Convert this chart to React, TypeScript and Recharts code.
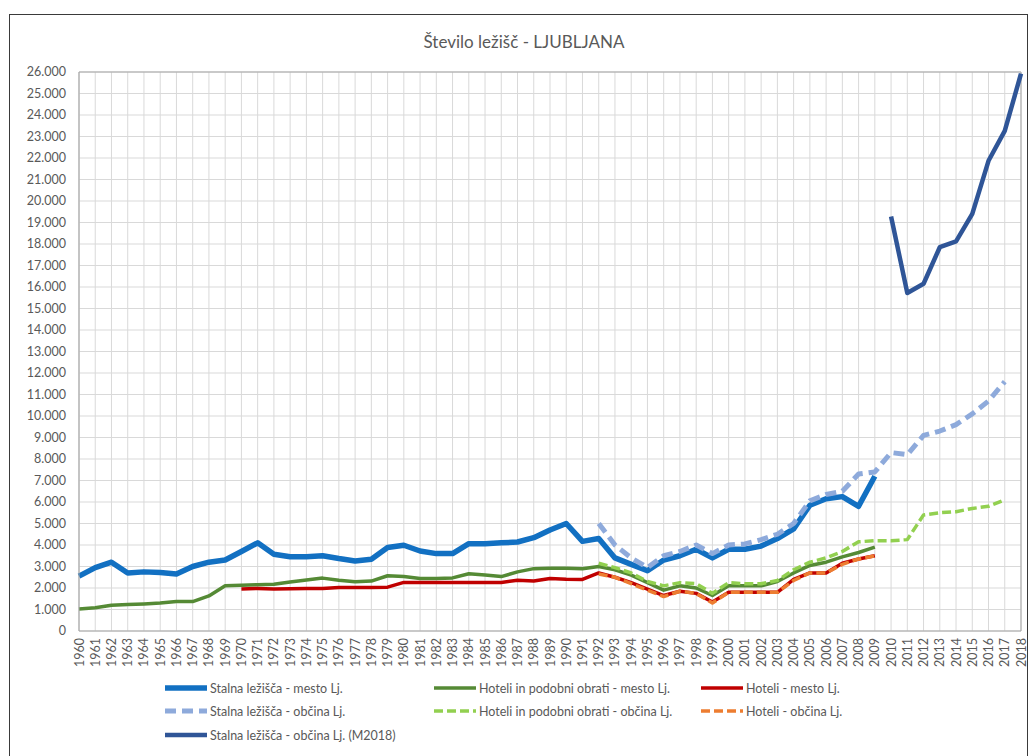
import React from "react";
import { LineChart, Line, XAxis, YAxis, CartesianGrid, ReferenceLine } from "recharts";

// Število ležišč - Ljubljana
const years = [
  1960, 1961, 1962, 1963, 1964, 1965, 1966, 1967, 1968, 1969,
  1970, 1971, 1972, 1973, 1974, 1975, 1976, 1977, 1978, 1979,
  1980, 1981, 1982, 1983, 1984, 1985, 1986, 1987, 1988, 1989,
  1990, 1991, 1992, 1993, 1994, 1995, 1996, 1997, 1998, 1999,
  2000, 2001, 2002, 2003, 2004, 2005, 2006, 2007, 2008, 2009,
  2010, 2011, 2012, 2013, 2014, 2015, 2016, 2017, 2018,
];

const yTicks = [
  0, 1000, 2000, 3000, 4000, 5000, 6000, 7000, 8000, 9000, 10000, 11000, 12000, 13000,
  14000, 15000, 16000, 17000, 18000, 19000, 20000, 21000, 22000, 23000, 24000, 25000, 26000,
];

const n = null;

const stalnaMesto = [
  2550, 2950, 3200, 2700, 2750, 2720, 2650, 3000, 3200, 3300,
  3700, 4100, 3570, 3450, 3450, 3500, 3370, 3260, 3340, 3880,
  3990, 3720, 3600, 3600, 4060, 4060, 4100, 4140, 4340, 4700,
  5000, 4170, 4300, 3400, 3100, 2800, 3300, 3500, 3800, 3400,
  3800, 3800, 3950, 4300, 4750, 5850, 6150, 6250, 5800, 7200,
  n, n, n, n, n, n, n, n, n,
];

const hoteliPodobniMesto = [
  1020, 1080, 1200, 1230, 1260, 1300, 1370, 1370, 1630, 2100,
  2130, 2150, 2170, 2280, 2370, 2460, 2360, 2290, 2320, 2570,
  2530, 2440, 2440, 2470, 2660, 2600, 2530, 2750, 2900, 2920,
  2920, 2900, 3000, 2850, 2600, 2250, 1900, 2100, 2000, 1650,
  2100, 2100, 2100, 2300, 2700, 3050, 3200, 3450, 3650, 3900,
  n, n, n, n, n, n, n, n, n,
];

const hoteliMesto = [
  n, n, n, n, n, n, n, n, n, n,
  1950, 1980, 1950, 1970, 1980, 1980, 2020, 2020, 2020, 2040,
  2260, 2260, 2260, 2260, 2260, 2260, 2260, 2360, 2330, 2440,
  2410, 2400, 2700, 2500, 2250, 1950, 1650, 1850, 1750, 1350,
  1800, 1800, 1800, 1800, 2400, 2700, 2700, 3150, 3350, 3500,
  n, n, n, n, n, n, n, n, n,
];

const stalnaObcina = [
  n, n, n, n, n, n, n, n, n, n,
  n, n, n, n, n, n, n, n, n, n,
  n, n, n, n, n, n, n, n, n, n,
  n, n, 5000, 4000, 3400, 2950, 3500, 3700, 4000, 3600,
  4000, 4050, 4250, 4500, 5000, 6050, 6350, 6500, 7300, 7400,
  8300, 8200, 9100, 9300, 9600, 10100, 10700, 11600, n,
];

const hoteliPodobniObcina = [
  n, n, n, n, n, n, n, n, n, n,
  n, n, n, n, n, n, n, n, n, n,
  n, n, n, n, n, n, n, n, n, n,
  n, n, 3150, 2950, 2700, 2300, 2100, 2250, 2200, 1750,
  2250, 2200, 2200, 2350, 2850, 3200, 3400, 3700, 4150, 4200,
  4200, 4250, 5400, 5500, 5550, 5700, 5800, 6100, n,
];

const hoteliObcina = [
  n, n, n, n, n, n, n, n, n, n,
  n, n, n, n, n, n, n, n, n, n,
  n, n, n, n, n, n, n, n, n, n,
  n, n, 2650, 2500, 2200, 1900, 1600, 1850, 1750, 1300,
  1800, 1800, 1800, 1800, 2350, 2700, 2700, 3100, 3350, 3500,
  n, n, n, n, n, n, n, n, n,
];

const stalnaObcinaM2018 = [
  n, n, n, n, n, n, n, n, n, n,
  n, n, n, n, n, n, n, n, n, n,
  n, n, n, n, n, n, n, n, n, n,
  n, n, n, n, n, n, n, n, n, n,
  n, n, n, n, n, n, n, n, n, n,
  19280, 15720, 16150, 17850, 18120, 19400, 21870, 23260, 25920,
];

const data = years.map((year, i) => ({
  year,
  stalnaMesto: stalnaMesto[i],
  hoteliPodobniMesto: hoteliPodobniMesto[i],
  hoteliMesto: hoteliMesto[i],
  stalnaObcina: stalnaObcina[i],
  hoteliPodobniObcina: hoteliPodobniObcina[i],
  hoteliObcina: hoteliObcina[i],
  stalnaObcinaM2018: stalnaObcinaM2018[i],
}));

const series = [
  { key: "stalnaMesto", name: "Stalna ležišča - mesto Lj.", color: "#1270c2", width: 5.5, dash: undefined },
  { key: "hoteliPodobniMesto", name: "Hoteli in podobni obrati - mesto Lj.", color: "#558a35", width: 3.5, dash: undefined },
  { key: "hoteliMesto", name: "Hoteli - mesto Lj.", color: "#c00000", width: 3.5, dash: undefined },
  { key: "stalnaObcina", name: "Stalna ležišča - občina Lj.", color: "#8eaadb", width: 5, dash: "11 6" },
  { key: "hoteliPodobniObcina", name: "Hoteli in podobni obrati - občina Lj.", color: "#92d050", width: 3.5, dash: "9 4" },
  { key: "hoteliObcina", name: "Hoteli - občina Lj.", color: "#ed7d31", width: 3.5, dash: "9 4" },
  { key: "stalnaObcinaM2018", name: "Stalna ležišča - občina Lj. (M2018)", color: "#2f5597", width: 4.5, dash: undefined },
];

const FONT = "Lato, 'Liberation Sans', sans-serif";
const TEXT = "#595959";

const fmt = (v: number) => (v === 0 ? "0" : `${v / 1000}.000`);

const XTick = (props: any) => {
  const { x, y, payload } = props;
  return (
    <text
      x={x}
      y={y}
      transform={`rotate(-90 ${x} ${y})`}
      textAnchor="end"
      dominantBaseline="central"
      fontSize={12.5}
      fontFamily={FONT}
      fill={TEXT}
    >
      {payload.value}
    </text>
  );
};

const legendCols = [164, 433, 700];
const legendRows = [688, 711, 735];

function LegendItem({ s, x, y }: { s: (typeof series)[number]; x: number; y: number }) {
  return (
    <div style={{ position: "absolute", left: x, top: y - 10, height: 20, display: "flex", alignItems: "center" }}>
      <svg width={44} height={20} style={{ display: "block" }}>
        <line x1={1} y1={10} x2={43} y2={10} stroke={s.color} strokeWidth={s.width} strokeDasharray={s.dash} />
      </svg>
      <span style={{ marginLeft: 2, fontFamily: FONT, fontSize: 12.5, color: TEXT, whiteSpace: "nowrap" }}>{s.name}</span>
    </div>
  );
}

export default function App() {
  return (
    <div style={{ position: "fixed", left: 0, top: 0, width: 1029, height: 756, overflow: "hidden", background: "#fff" }}>
      <div
        style={{
          position: "absolute",
          left: 9,
          top: 14,
          width: 1017,
          height: 770,
          border: "1.5px solid #3a3a3a",
        }}
      />
      <div
        style={{
          position: "absolute",
          left: 0,
          width: 1048,
          top: 31,
          textAlign: "center",
          fontFamily: FONT,
          fontSize: 17,
          color: TEXT,
        }}
      >
        Število ležišč - LJUBLJANA
      </div>
      <div style={{ position: "absolute", left: 0, top: 0 }}>
        <LineChart width={1029} height={756} data={data} margin={{ top: 72, right: 8, left: 10, bottom: 85 }}>
          <CartesianGrid stroke="#d9d9d9" strokeWidth={1} />
          <XAxis
            dataKey="year"
            interval={0}
            tick={<XTick />}
            tickLine={false}
            tickSize={0}
            tickMargin={7}
            height={40}
            axisLine={{ stroke: "#a6a6a6" }}
          />
          <YAxis
            domain={[0, 26000]}
            ticks={yTicks}
            interval={0}
            tickFormatter={fmt}
            tickLine={false}
            tickSize={0}
            tickMargin={13}
            width={69}
            axisLine={{ stroke: "#a6a6a6" }}
            tick={{ fill: TEXT, fontSize: 12.5, fontFamily: FONT }}
          />
          <ReferenceLine y={26000} stroke="#a6a6a6" />
          <ReferenceLine x={2018} stroke="#a6a6a6" />
          {series.map((s) => (
            <Line
              key={s.key}
              type="linear"
              dataKey={s.key}
              name={s.name}
              stroke={s.color}
              strokeWidth={s.width}
              strokeDasharray={s.dash}
              strokeLinejoin="round"
              dot={false}
              activeDot={false}
              connectNulls={false}
              isAnimationActive={false}
            />
          ))}
        </LineChart>
      </div>
      {series.map((s, i) => {
        const col = i === 6 ? 0 : i % 3;
        const row = i === 6 ? 2 : Math.floor(i / 3);
        return <LegendItem key={s.key} s={s} x={legendCols[col]} y={legendRows[row]} />;
      })}
    </div>
  );
}
